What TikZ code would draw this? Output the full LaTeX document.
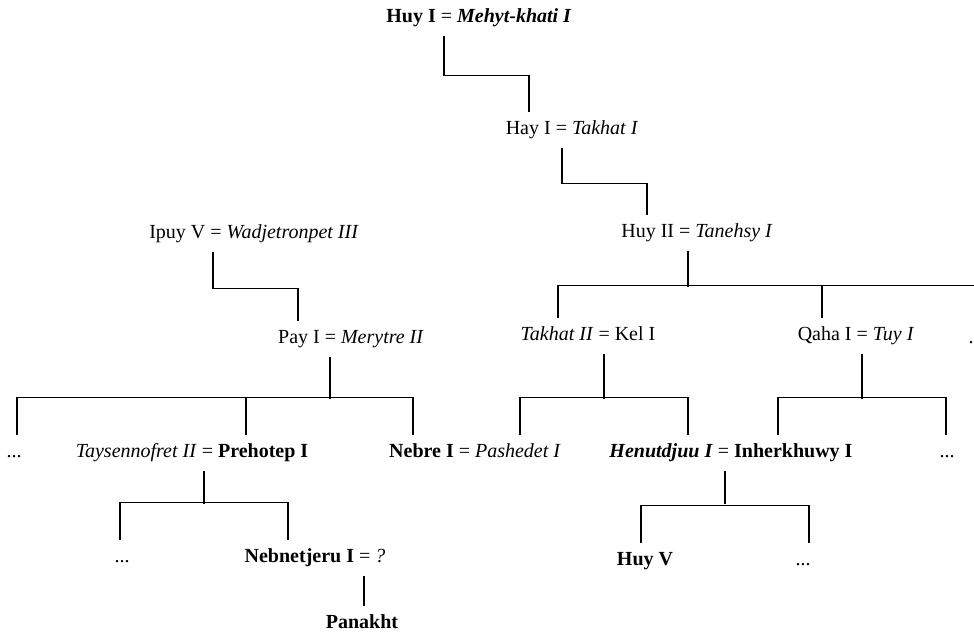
\documentclass[tikz,border=0pt]{standalone}
\usepackage{fontspec}
\setmainfont{Liberation Serif}
\usepackage{tikz}

\begin{document}
\begin{tikzpicture}[x=1pt,y=-1pt,line width=1.3pt,
  person/.style={inner sep=0pt,minimum height=34pt,text height=13pt,text depth=4pt,
    font=\fontsize{20}{23}\selectfont}]
\useasboundingbox (0,0) rectangle (974,634);
%first generations
\node[person] at (479,18) (HuyI) {\textbf{Huy I} = \textbf{\textit{Mehyt-khati I}}};
\node[person] at (572,130) (HayI) {Hay I = \textit{Takhat I}};
\node[person] at (697,233) (HuyII) {Huy II = \textit{Tanehsy I}};
\node[person] at (254,234) (IpuyV) {Ipuy V = \textit{Wadjetronpet III}};
\node[person] at (351,339) (PayI) {Pay I = \textit{Merytre II}};
\node[person] at (588,336) (TakhatII) {\textit{Takhat II} = Kel I};
\node[person] at (856,336) (QahaI) {Qaha I = \textit{Tuy I}};
\node[person] at (976,339) (DotsR) {...};
%third row
\node[person] at (14,453) (DotsA) {...};
\node[person] at (192,453) (Prehotep) {\textit{Taysennofret II} = \textbf{Prehotep I}};
\node[person] at (475,453) (Nebre) {\textbf{Nebre I} = \textit{Pashedet I}};
\node[person] at (731,453) (Henutdjuu) {\textbf{\textit{Henutdjuu I}} = \textbf{Inherkhuwy I}};
\node[person] at (947,453) (DotsB) {...};
%last rows
\node[person] at (122,558) (DotsC) {...};
\node[person] at (315,558) (Nebnetjeru) {\textbf{Nebnetjeru I} = \textit{?}};
\node[person] at (362,624) (Panakht) {\textbf{Panakht}};
\node[person] at (645,561) (HuyV) {\textbf{Huy V}};
\node[person] at (803,561) (DotsD) {...};
\draw ([xshift=-35]HuyI.south) -- ++(0,40) -| ([xshift=-43]HayI.north);
\draw ([xshift=-10]HayI.south) -- ++(0,36) -| ([xshift=-50]HuyII.north);
\draw ([xshift=-9]HuyII.south) -- ++(0,36);
\draw ([xshift=-30]TakhatII.north) -- ++(0,-33) -| ([xshift=4]DotsR.north);
\draw ([xshift=-34]QahaI.north) -- ++(0,-33);
\draw ([xshift=-41]IpuyV.south) -- ++(0,37) -| ([xshift=-53]PayI.north);
\draw ([xshift=-21]PayI.south) -- ++(0,42);
\draw ([xshift=3]DotsA.north) -- ++(0,-38) -| ([xshift=-62]Nebre.north);
\draw ([xshift=54]Prehotep.north) -- ++(0,-38);
\draw ([xshift=16]TakhatII.south) -- ++(0,45);
\draw ([xshift=45]Nebre.north) -- ++(0,-38) -| ([xshift=-43]Henutdjuu.north);
\draw ([xshift=6]QahaI.south) -- ++(0,45);
\draw ([xshift=47]Henutdjuu.north) -- ++(0,-38) -| ([xshift=-1]DotsB.north);
\draw ([xshift=12]Prehotep.south) -- ++(0,33);
\draw ([xshift=-2]DotsC.north) -- ++(0,-38) -| ([xshift=-27]Nebnetjeru.north);
\draw ([xshift=49]Nebnetjeru.south) -- ([xshift=49]Nebnetjeru.south |- Panakht.north);
\draw ([xshift=-6]Henutdjuu.south) -- ++(0,33);
\draw ([xshift=-4]HuyV.north) -- ++(0,-38) -| ([xshift=6]DotsD.north);
\end{tikzpicture}
\end{document}
